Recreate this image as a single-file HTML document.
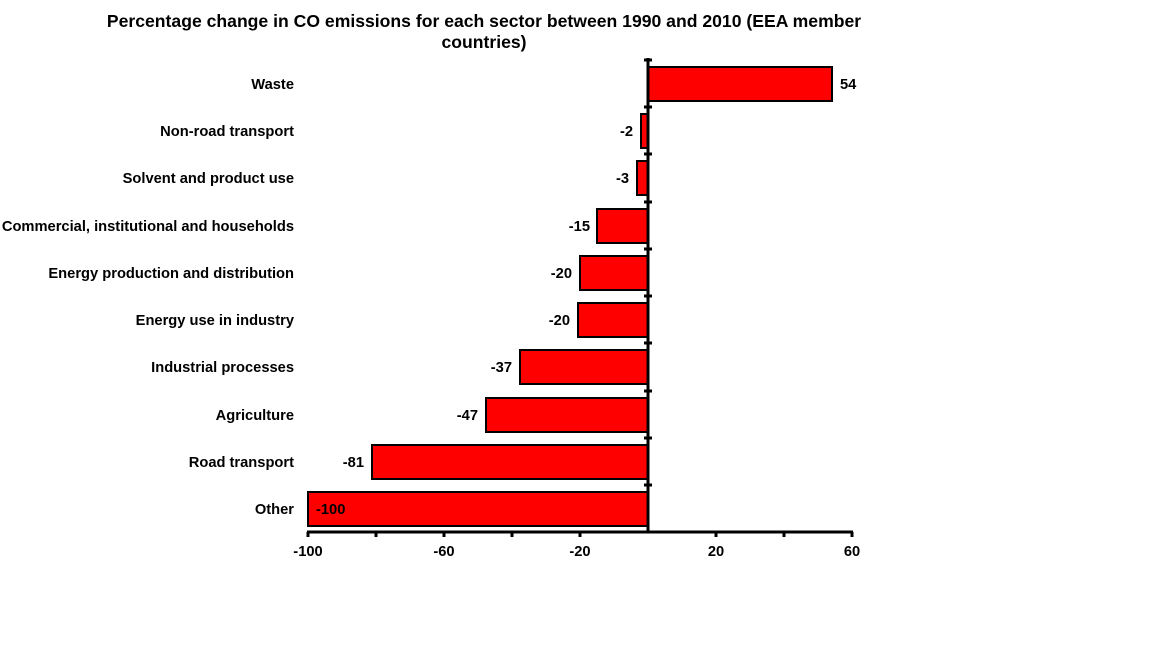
<!DOCTYPE html>
<html><head><meta charset="utf-8"><style>body{margin:0;background:#fff}</style></head><body>
<svg width="1152" height="648" xmlns="http://www.w3.org/2000/svg" font-family="Liberation Sans, Arial, sans-serif" font-weight="bold" font-size="14.7">
<text x="484" y="27" text-anchor="middle" font-size="17.6">Percentage change in CO emissions for each sector between 1990 and 2010 (EEA member</text>
<text x="484" y="48" text-anchor="middle" font-size="17.6">countries)</text>
<g stroke="#000" stroke-width="2" fill="#ff0000">
<rect x="648" y="67" width="184" height="34"/>
<rect x="641" y="114" width="7" height="34"/>
<rect x="637" y="161" width="11" height="34"/>
<rect x="597" y="209" width="51" height="34"/>
<rect x="580" y="256" width="68" height="34"/>
<rect x="578" y="303" width="70" height="34"/>
<rect x="520" y="350" width="128" height="34"/>
<rect x="486" y="398" width="162" height="34"/>
<rect x="372" y="445" width="276" height="34"/>
<rect x="308" y="492" width="340" height="34"/>
</g>
<g stroke="#000" stroke-width="3"><line x1="648" y1="58" x2="648" y2="533"/><line x1="307" y1="532" x2="853" y2="532"/></g>
<g stroke="#000" stroke-width="3">
<line x1="644" y1="60" x2="652" y2="60"/><line x1="644" y1="107" x2="652" y2="107"/><line x1="644" y1="154" x2="652" y2="154"/><line x1="644" y1="202" x2="652" y2="202"/><line x1="644" y1="249" x2="652" y2="249"/><line x1="644" y1="296" x2="652" y2="296"/><line x1="644" y1="343" x2="652" y2="343"/><line x1="644" y1="391" x2="652" y2="391"/><line x1="644" y1="438" x2="652" y2="438"/><line x1="644" y1="485" x2="652" y2="485"/>
<line x1="308" y1="532" x2="308" y2="537"/><line x1="376" y1="532" x2="376" y2="537"/><line x1="444" y1="532" x2="444" y2="537"/><line x1="512" y1="532" x2="512" y2="537"/><line x1="580" y1="532" x2="580" y2="537"/><line x1="716" y1="532" x2="716" y2="537"/><line x1="784" y1="532" x2="784" y2="537"/><line x1="852" y1="532" x2="852" y2="537"/>
</g>
<g text-anchor="middle"><text x="308" y="556">-100</text><text x="444" y="556">-60</text><text x="580" y="556">-20</text><text x="716" y="556">20</text><text x="852" y="556">60</text></g>
<g text-anchor="end">
<text x="294" y="89">Waste</text><text x="294" y="136">Non-road transport</text><text x="294" y="183">Solvent and product use</text><text x="294" y="231">Commercial, institutional and households</text><text x="294" y="278">Energy production and distribution</text><text x="294" y="325">Energy use in industry</text><text x="294" y="372">Industrial processes</text><text x="294" y="420">Agriculture</text><text x="294" y="467">Road transport</text><text x="294" y="514">Other</text>
<text x="633" y="136">-2</text><text x="629" y="183">-3</text><text x="590" y="231">-15</text><text x="572" y="278">-20</text><text x="570" y="325">-20</text><text x="512" y="372">-37</text><text x="478" y="420">-47</text><text x="364" y="467">-81</text>
</g>
<text x="840" y="89">54</text>
<text x="316" y="514">-100</text>
</svg>
</body></html>
